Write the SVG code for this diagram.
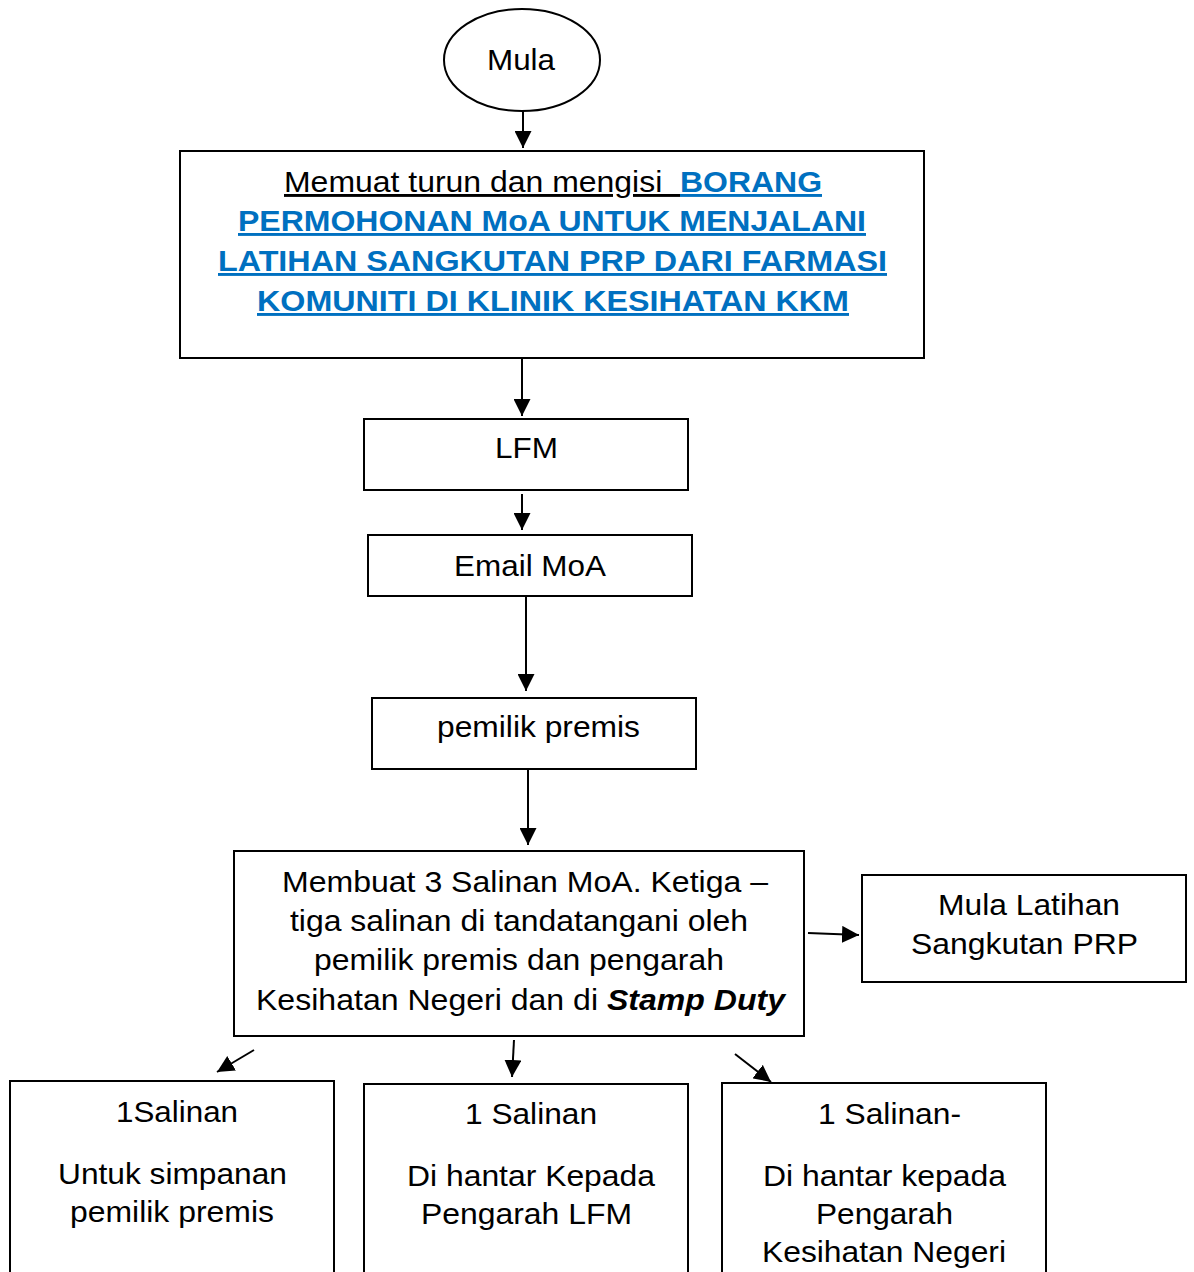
<svg xmlns="http://www.w3.org/2000/svg" width="1194" height="1272" viewBox="0 0 1194 1272">
<style>
.n{fill:#fff;stroke:#000;stroke-width:2}
.t{font-family:"Liberation Sans",Arial,sans-serif;font-size:29px;fill:#000;text-anchor:middle}
.b{font-weight:bold;fill:#0070C0}
.u{text-decoration:underline}
.c{stroke:#000;stroke-width:2;fill:none;marker-end:url(#ah)}
</style>
<defs>
<marker id="ah" viewBox="0 0 10 10" refX="10" refY="5" markerWidth="8.5" markerHeight="8.5" orient="auto" markerUnits="strokeWidth">
<path d="M0,0L10,5L0,10z" fill="#000"/>
</marker>
</defs>
<rect width="1194" height="1272" fill="#fff"/>
<g id="connectors">
<line class="c" x1="523" y1="111" x2="523" y2="148"/>
<line class="c" x1="522" y1="359" x2="522" y2="416"/>
<line class="c" x1="522" y1="494" x2="522" y2="530"/>
<line class="c" x1="526" y1="597" x2="526" y2="691"/>
<line class="c" x1="528" y1="770" x2="528" y2="845"/>
<line class="c" x1="808" y1="933" x2="859" y2="935"/>
<line class="c" x1="254" y1="1050" x2="217" y2="1072"/>
<line class="c" x1="514" y1="1040" x2="512" y2="1077"/>
<line class="c" x1="735" y1="1054" x2="771" y2="1082"/>
</g>
<g id="start">
<ellipse class="n" cx="522" cy="60" rx="78" ry="51"/>
<text class="t" x="521" y="70" textLength="68" lengthAdjust="spacingAndGlyphs">Mula</text>
</g>
<g id="download">
<rect class="n" x="180" y="151" width="744" height="207"/>
<text class="t" x="553" y="192" textLength="538" lengthAdjust="spacingAndGlyphs" xml:space="preserve"><tspan class="u">Memuat turun dan mengisi  </tspan><tspan class="b u">BORANG</tspan></text>
<text class="t b u" x="552" y="231" textLength="628" lengthAdjust="spacingAndGlyphs">PERMOHONAN MoA UNTUK MENJALANI</text>
<text class="t b u" x="552.5" y="271" textLength="669" lengthAdjust="spacingAndGlyphs">LATIHAN SANGKUTAN PRP DARI FARMASI</text>
<text class="t b u" x="553" y="311" textLength="592" lengthAdjust="spacingAndGlyphs">KOMUNITI DI KLINIK KESIHATAN KKM</text>
</g>
<g id="lfm">
<rect class="n" x="364" y="419" width="324" height="71"/>
<text class="t" x="526.5" y="458" textLength="63" lengthAdjust="spacingAndGlyphs">LFM</text>
</g>
<g id="email">
<rect class="n" x="368" y="535" width="324" height="61"/>
<text class="t" x="530" y="576" textLength="152" lengthAdjust="spacingAndGlyphs">Email MoA</text>
</g>
<g id="owner">
<rect class="n" x="372" y="698" width="324" height="71"/>
<text class="t" x="538.5" y="737" textLength="203" lengthAdjust="spacingAndGlyphs">pemilik premis</text>
</g>
<g id="copies">
<rect class="n" x="234" y="851" width="570" height="185"/>
<text class="t" x="525" y="892" textLength="486" lengthAdjust="spacingAndGlyphs">Membuat 3 Salinan MoA. Ketiga –</text>
<text class="t" x="519" y="931" textLength="458" lengthAdjust="spacingAndGlyphs">tiga salinan di tandatangani oleh</text>
<text class="t" x="519" y="970" textLength="410" lengthAdjust="spacingAndGlyphs">pemilik premis dan pengarah</text>
<text class="t" x="520.5" y="1010" textLength="529" lengthAdjust="spacingAndGlyphs">Kesihatan Negeri dan di <tspan font-weight="bold" font-style="italic">Stamp Duty</tspan></text>
</g>
<g id="training">
<rect class="n" x="862" y="875" width="324" height="107"/>
<text class="t" x="1029" y="915" textLength="182" lengthAdjust="spacingAndGlyphs">Mula Latihan</text>
<text class="t" x="1024.5" y="954" textLength="227" lengthAdjust="spacingAndGlyphs">Sangkutan PRP</text>
</g>
<g id="copy1">
<rect class="n" x="10" y="1081" width="324" height="200"/>
<text class="t" x="177" y="1122" textLength="122" lengthAdjust="spacingAndGlyphs">1Salinan</text>
<text class="t" x="172.5" y="1184" textLength="229" lengthAdjust="spacingAndGlyphs">Untuk simpanan</text>
<text class="t" x="172" y="1222" textLength="204" lengthAdjust="spacingAndGlyphs">pemilik premis</text>
</g>
<g id="copy2">
<rect class="n" x="364" y="1084" width="324" height="200"/>
<text class="t" x="531" y="1124" textLength="132" lengthAdjust="spacingAndGlyphs">1 Salinan</text>
<text class="t" x="531" y="1186" textLength="248" lengthAdjust="spacingAndGlyphs">Di hantar Kepada</text>
<text class="t" x="526.5" y="1224" textLength="211" lengthAdjust="spacingAndGlyphs">Pengarah LFM</text>
</g>
<g id="copy3">
<rect class="n" x="722" y="1083" width="324" height="200"/>
<text class="t" x="889.5" y="1124" textLength="143" lengthAdjust="spacingAndGlyphs">1 Salinan-</text>
<text class="t" x="884.5" y="1186" textLength="243" lengthAdjust="spacingAndGlyphs">Di hantar kepada</text>
<text class="t" x="884.5" y="1224" textLength="137" lengthAdjust="spacingAndGlyphs">Pengarah</text>
<text class="t" x="884" y="1262" textLength="244" lengthAdjust="spacingAndGlyphs">Kesihatan Negeri</text>
</g>
</svg>
